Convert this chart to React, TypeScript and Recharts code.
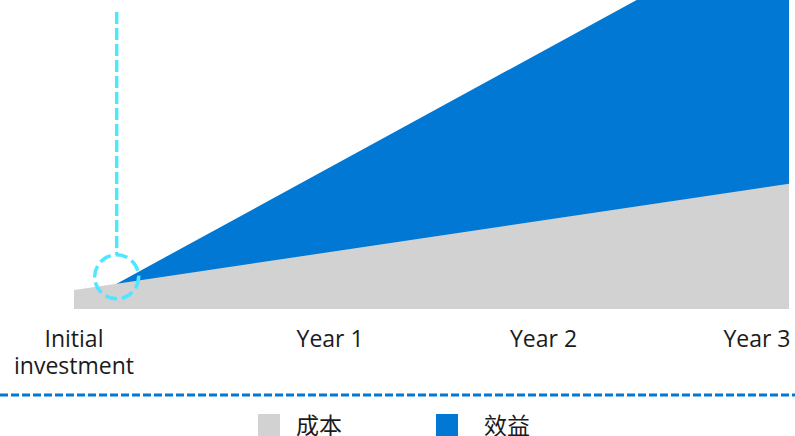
import React from "react"
import {
  Area,
  ComposedChart,
  ReferenceDot,
  ReferenceLine,
  XAxis,
  YAxis,
} from "recharts"

// x is in "year" units, 0 = initial investment
const X_VALUES = [0, 0.2, 3.35]
const COST = [6.15, 8.2, 40.5]
const TOTAL = [null, 8.2, 126.9]

const TICK_POSITIONS = [0, 1.2, 2.2, 3.2]
const TICK_LABELS = [["Initial", "investment"], ["Year 1"], ["Year 2"], ["Year 3"]]

const LEGEND_LABELS = ["成本", "效益"]

const GRAY = "#d2d2d2"
const BLUE = "#0078d4"
const CYAN = "#50e6ff"
const FONT = '"Open Sans", "Noto Sans CJK SC", sans-serif'

const data = X_VALUES.map((x, i) => ({ x, cost: COST[i], total: TOTAL[i] }))

function Tick(props: any) {
  const { x, y, payload } = props
  const i = TICK_POSITIONS.indexOf(payload.value)
  const lines = TICK_LABELS[i] || []
  return (
    <text x={x} y={y} textAnchor="middle" fill="#1b1b1b" fontSize={23} fontFamily={FONT}>
      {lines.map((l, j) => (
        <tspan key={j} x={x} dy={j === 0 ? 38 : 27}>
          {l}
        </tspan>
      ))}
    </text>
  )
}

export default function App() {
  return (
    <div
      style={{
        position: "absolute",
        left: 0,
        top: 0,
        width: 795,
        height: 436,
        overflow: "hidden",
        background: "#fff",
        fontFamily: FONT,
      }}
    >
      <ComposedChart
        width={795}
        height={390}
        data={data}
        margin={{ top: 0, right: 6, left: 74, bottom: 0 }}
      >
        <XAxis
          dataKey="x"
          type="number"
          domain={[0, 3.35]}
          ticks={TICK_POSITIONS}
          axisLine={false}
          tickLine={false}
          tickSize={0}
          tickMargin={0}
          height={81}
          interval={0}
          tick={<Tick />}
        />
        <YAxis hide domain={[0, 100]} allowDataOverflow />
        <Area
          type="linear"
          dataKey="total"
          fill={BLUE}
          fillOpacity={1}
          stroke="none"
          isAnimationActive={false}
        />
        <Area
          type="linear"
          dataKey="cost"
          fill={GRAY}
          fillOpacity={1}
          stroke="none"
          isAnimationActive={false}
        />
        <ReferenceLine
          segment={[
            { x: 0.2, y: 96.1 },
            { x: 0.2, y: 17.5 },
          ]}
          stroke={CYAN}
          strokeWidth={3.5}
          strokeDasharray="12 4"
        />
        <ReferenceDot
          x={0.2}
          y={10.4}
          r={22}
          fill="none"
          stroke={CYAN}
          strokeWidth={3.5}
          strokeDasharray="12 5"
        />
      </ComposedChart>

      <svg
        width={795}
        height={6}
        style={{ position: "absolute", left: 0, top: 392 }}
      >
        <line x1={0} y1={3} x2={795} y2={3} stroke={BLUE} strokeWidth={3} strokeDasharray="8 3" />
      </svg>

      {LEGEND_LABELS.map((label, i) => (
        <div
          key={label}
          style={{
            position: "absolute",
            left: i === 0 ? 258 : 436,
            top: 414,
            display: "flex",
            alignItems: "flex-start",
          }}
        >
          <span
            style={{
              display: "inline-block",
              width: 22,
              height: 22,
              background: i === 0 ? GRAY : BLUE,
            }}
          />
          <span
            style={{
              marginLeft: i === 0 ? 16 : 26,
              marginTop: -3,
              fontSize: 23,
              color: "#1b1b1b",
              lineHeight: "28px",
              whiteSpace: "nowrap",
            }}
          >
            {label}
          </span>
        </div>
      ))}
    </div>
  )
}
